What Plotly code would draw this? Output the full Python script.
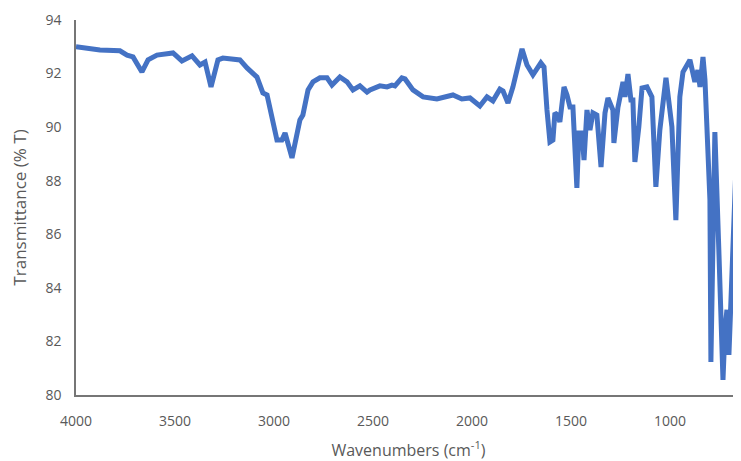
import plotly.graph_objects as go

# FTIR spectrum
wavenumber = [4000, 3879, 3778, 3742, 3712, 3667, 3636, 3591, 3510, 3465, 3414, 3374, 3348, 3318,
              3283, 3258, 3172, 3136, 3086, 3056, 3035, 2985, 2960, 2944, 2909, 2869, 2854, 2828,
              2803, 2768, 2732, 2707, 2667, 2631, 2601, 2566, 2530, 2515, 2465, 2429, 2404, 2389,
              2354, 2338, 2298, 2247, 2177, 2126, 2096, 2051, 2010, 1960, 1924, 1894, 1859, 1843,
              1818, 1793, 1747, 1722, 1692, 1652, 1636, 1621, 1606, 1591, 1581, 1566, 1556, 1535,
              1520, 1505, 1490, 1470, 1460, 1444, 1434, 1419, 1404, 1389, 1369, 1348, 1328, 1313,
              1288, 1283, 1263, 1237, 1227, 1212, 1197, 1187, 1177, 1157, 1141, 1116, 1091, 1071,
              1051, 1020, 990, 970, 950, 934, 899, 874, 859, 848, 833, 823, 798, 793, 773, 753,
              732, 722, 712, 702, 692, 682, 667, 641]
transmittance = [93.0, 92.88, 92.85, 92.69, 92.62, 92.06, 92.51, 92.69, 92.77, 92.47, 92.66, 92.32,
                 92.43, 91.5, 92.51, 92.58, 92.51, 92.21, 91.87, 91.28, 91.2, 89.52, 89.52, 89.78,
                 88.85, 90.27, 90.45, 91.39, 91.69, 91.84, 91.84, 91.57, 91.87, 91.69, 91.39, 91.54,
                 91.31, 91.39, 91.54, 91.5, 91.57, 91.54, 91.84, 91.8, 91.39, 91.13, 91.05, 91.16,
                 91.2, 91.05, 91.09, 90.79, 91.13, 90.98, 91.42, 91.35, 90.9, 91.5, 92.92, 92.32,
                 91.95, 92.4, 92.25, 90.64, 89.45, 89.52, 90.53, 90.45, 90.19, 91.5, 91.2, 90.75,
                 90.75, 87.73, 89.78, 89.78, 88.77, 90.64, 89.89, 90.53, 90.45, 88.51, 90.53, 91.09,
                 90.64, 89.41, 90.72, 91.69, 91.13, 91.98, 91.01, 91.01, 88.7, 90.01, 91.46, 91.5,
                 91.13, 87.77, 89.89, 91.84, 90.01, 86.53, 91.13, 92.06, 92.51, 91.69, 92.13, 91.5,
                 92.62, 91.76, 87.28, 81.23, 89.82, 85.42, 80.56, 82.43, 83.18, 81.5, 83.55, 86.16,
                 88.4, 90.64]

grey = "#595959"

fig = go.Figure()
fig.add_trace(go.Scatter(x=wavenumber, y=transmittance, mode="lines",
                         line=dict(color="#4472C4", width=5), showlegend=False))

# the page body adds 8px around the figure, so the figure is 8px smaller
fig.update_layout(
    width=733, height=453,
    margin=dict(l=68, r=0, t=12, b=66, autoexpand=False),
    paper_bgcolor="white", plot_bgcolor="white",
    font=dict(family="Open Sans, Liberation Sans, sans-serif", size=14, color=grey),
)
fig.update_xaxes(
    range=[4000, 641], tickvals=[4000, 3500, 3000, 2500, 2000, 1500, 1000],
    automargin=False,
    showgrid=False, zeroline=False, showline=True, linecolor="#767676", linewidth=1.5,
    ticks="outside", ticklen=12, tickcolor="rgba(0,0,0,0)",
    title=dict(text="Wavenumbers (cm<sup>-1</sup>)", font=dict(size=16, color=grey), standoff=20),
)
fig.update_yaxes(
    range=[80, 94], dtick=2,
    automargin=False,
    showgrid=False, zeroline=False, showline=True, linecolor="#767676", linewidth=1.5,
    ticks="outside", ticklen=10, tickcolor="rgba(0,0,0,0)",
    title=dict(text="Transmittance (% T)", font=dict(size=17, color=grey), standoff=14),
)

fig.write_html("out.html")
